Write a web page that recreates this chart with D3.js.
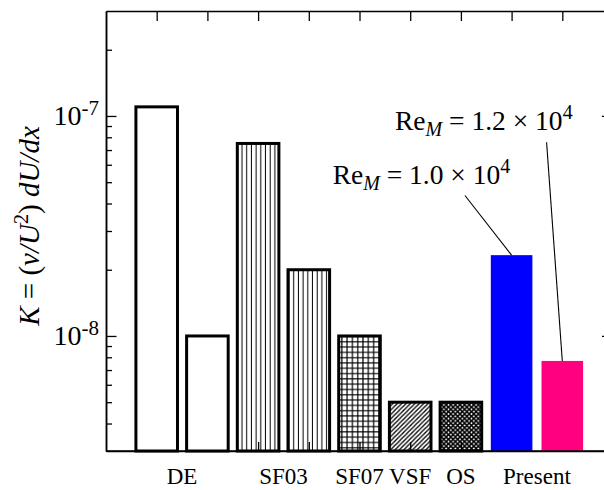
<!DOCTYPE html>
<html>
<head>
<meta charset="utf-8">
<script src="https://cdn.jsdelivr.net/npm/d3@7"></script>
<style>
  html, body { margin: 0; padding: 0; background: #fff; }
  svg { display: block; }
  text { font-family: "Liberation Serif", "Times New Roman", serif; fill: #000; }
</style>
</head>
<body>
<svg id="chart" width="604" height="490"></svg>
<script>
// Acceleration parameter K for each data set (log scale)
const barGroups = ["DE", "DE", "SF03", "SF03", "SF07", "VSF", "OS", "Present", "Present"];
const barValues = [1.1e-7, 1.0e-8, 7.5e-8, 2.0e-8, 1.0e-8, 5.0e-9, 5.0e-9, 2.33e-8, 7.7e-9];
const groupNames = ["DE", "SF03", "SF07", "VSF", "OS", "Present"];
const majorTicks = [1e-8, 1e-7];
const majorExponents = ["-8", "-7"];
const minorTicks = [4e-9, 5e-9, 6e-9, 7e-9, 8e-9, 9e-9,
                    2e-8, 3e-8, 4e-8, 5e-8, 6e-8, 7e-8, 8e-8, 9e-8, 2e-7];
const reynolds = ["1.0", "1.2"];

const svg = d3.select("#chart");
const plotLeft = 106, plotRight = 613, plotTop = 11, plotBottom = 451;

const x = d3.scaleLinear().domain([0, 10]).range([plotLeft, plotRight]);
const y = d3.scaleLog().domain([3e-9, 3e-7]).range([plotBottom, plotTop]);
const barW = 0.82; // in category units

// hatch patterns
const defs = svg.append("defs");
function pattern(id, w, h, draw) {
  const p = defs.append("pattern").attr("id", id)
    .attr("patternUnits", "userSpaceOnUse").attr("width", w).attr("height", h);
  draw(p);
}
pattern("vlines", 4.7, 10, p => {
  p.append("line").attr("x1", 2.3).attr("x2", 2.3).attr("y1", 0).attr("y2", 10)
    .attr("stroke", "#000").attr("stroke-width", 1);
});
pattern("grid", 5.3, 5.3, p => {
  p.append("path").attr("d", "M2.6,0V5.3M0,2.6H5.3")
    .attr("stroke", "#000").attr("stroke-width", 1.2).attr("fill", "none");
});
pattern("diag", 4.4, 4.4, p => {
  p.append("path").attr("d", "M-1,1L1,-1M0,4.4L4.4,0M3.4,5.4L5.4,3.4")
    .attr("stroke", "#000").attr("stroke-width", 1.3).attr("fill", "none");
});
pattern("cross", 4.6, 4.6, p => {
  p.append("path").attr("d", "M0,0L4.6,4.6M4.6,0L0,4.6")
    .attr("stroke", "#000").attr("stroke-width", 1.6).attr("fill", "none");
});

const groupStyle = {
  DE: { fill: "#fff", stroke: "#000" },
  SF03: { fill: "url(#vlines)", stroke: "#000" },
  SF07: { fill: "url(#grid)", stroke: "#000" },
  VSF: { fill: "url(#diag)", stroke: "#000" },
  OS: { fill: "url(#cross)", stroke: "#000" }
};
const presentColors = ["#0000ff", "#ff0080"];

// axes: ticks pointing inward on all four sides
function styleAxis(g) {
  g.selectAll("path.domain").attr("stroke", "#000").attr("stroke-width", 1.5);
  g.selectAll(".tick line").attr("stroke", "#000").attr("stroke-width", 1.3);
  g.selectAll(".tick text").remove();
}
const catTicks = d3.range(1, barValues.length + 1);
svg.append("g").attr("transform", `translate(0,${plotBottom})`)
  .call(d3.axisTop(x).tickValues(catTicks).tickSize(9).tickSizeOuter(0)).call(styleAxis);
svg.append("g").attr("transform", `translate(0,${plotTop})`)
  .call(d3.axisBottom(x).tickValues(catTicks).tickSize(10).tickSizeOuter(0)).call(styleAxis);
svg.append("g").attr("transform", `translate(${plotLeft},0)`)
  .call(d3.axisRight(y).tickValues(minorTicks).tickSize(6).tickSizeOuter(0)).call(styleAxis);
svg.append("g").attr("transform", `translate(${plotLeft},0)`)
  .call(d3.axisRight(y).tickValues(majorTicks).tickSize(10.5).tickSizeOuter(0)).call(styleAxis);
svg.append("g").attr("transform", `translate(${plotRight},0)`)
  .call(d3.axisLeft(y).tickValues(minorTicks).tickSize(6).tickSizeOuter(0)).call(styleAxis);
svg.append("g").attr("transform", `translate(${plotRight},0)`)
  .call(d3.axisLeft(y).tickValues(majorTicks).tickSize(11).tickSizeOuter(0)).call(styleAxis);

// bars
let pi = 0;
svg.append("g").selectAll("rect").data(barValues).join("rect")
  .attr("x", (d, i) => x(i + 1 - barW / 2))
  .attr("width", x(barW) - x(0))
  .attr("y", d => y(d))
  .attr("height", d => plotBottom - y(d))
  .each(function (d, i) {
    const g = barGroups[i];
    const r = d3.select(this);
    if (g === "Present") {
      r.attr("fill", presentColors[pi++]).attr("stroke", "none");
    } else {
      r.attr("fill", groupStyle[g].fill).attr("stroke", groupStyle[g].stroke)
        .attr("stroke-width", 3);
    }
  });

// redraw bottom frame line on top of bars
svg.append("line").attr("x1", plotLeft).attr("x2", plotRight)
  .attr("y1", plotBottom).attr("y2", plotBottom)
  .attr("stroke", "#000").attr("stroke-width", 1.5);

// y tick labels 10^n
majorTicks.forEach((v, i) => {
  const t = svg.append("text").attr("x", 99).attr("y", y(v) + 9)
    .attr("text-anchor", "end").attr("font-size", 28);
  t.append("tspan").text("10");
  t.append("tspan").attr("dy", -10).attr("font-size", 21).text(majorExponents[i]);
});

// group labels under the bars
groupNames.forEach(name => {
  const idx = barGroups.map((g, i) => g === name ? i + 1 : null).filter(v => v !== null);
  svg.append("text").attr("x", x(d3.mean(idx))).attr("y", 484)
    .attr("text-anchor", "middle").attr("font-size", 23).text(name);
});

// y axis title
const yt = svg.append("text").attr("transform", "translate(39,226) rotate(-90)")
  .attr("text-anchor", "middle").attr("font-size", 29);
yt.append("tspan").attr("font-style", "italic").text("K");
yt.append("tspan").text(" = (");
yt.append("tspan").attr("font-style", "italic").text("ν/U");
yt.append("tspan").attr("dy", -11).attr("font-size", 20).text("2");
yt.append("tspan").attr("dy", 11).text(") ");
yt.append("tspan").attr("font-style", "italic").text("dU/dx");

// Reynolds number annotations with leader lines to the Present bars
const annoText = [{ x: 4.47, v: 4.93e-8 }, { x: 5.70, v: 8.67e-8 }];
const annoStart = [{ x: 7.08, v: 4.35e-8 }, { x: 8.69, v: 7.6e-8 }];
reynolds.forEach((re, i) => {
  const bi = 7 + i;
  svg.append("line")
    .attr("x1", x(annoStart[i].x)).attr("y1", y(annoStart[i].v))
    .attr("x2", x(bi + 1)).attr("y2", y(barValues[bi]))
    .attr("stroke", "#000").attr("stroke-width", 1.1);
  const t = svg.append("text").attr("x", x(annoText[i].x)).attr("y", y(annoText[i].v))
    .attr("font-size", 27.5);
  t.append("tspan").text("Re");
  t.append("tspan").attr("dy", 6).attr("font-size", 20).attr("font-style", "italic").text("M");
  t.append("tspan").attr("dy", -6).text(` = ${re} × 10`);
  t.append("tspan").attr("dy", -11).attr("font-size", 20).text("4");
});
</script>
</body>
</html>
